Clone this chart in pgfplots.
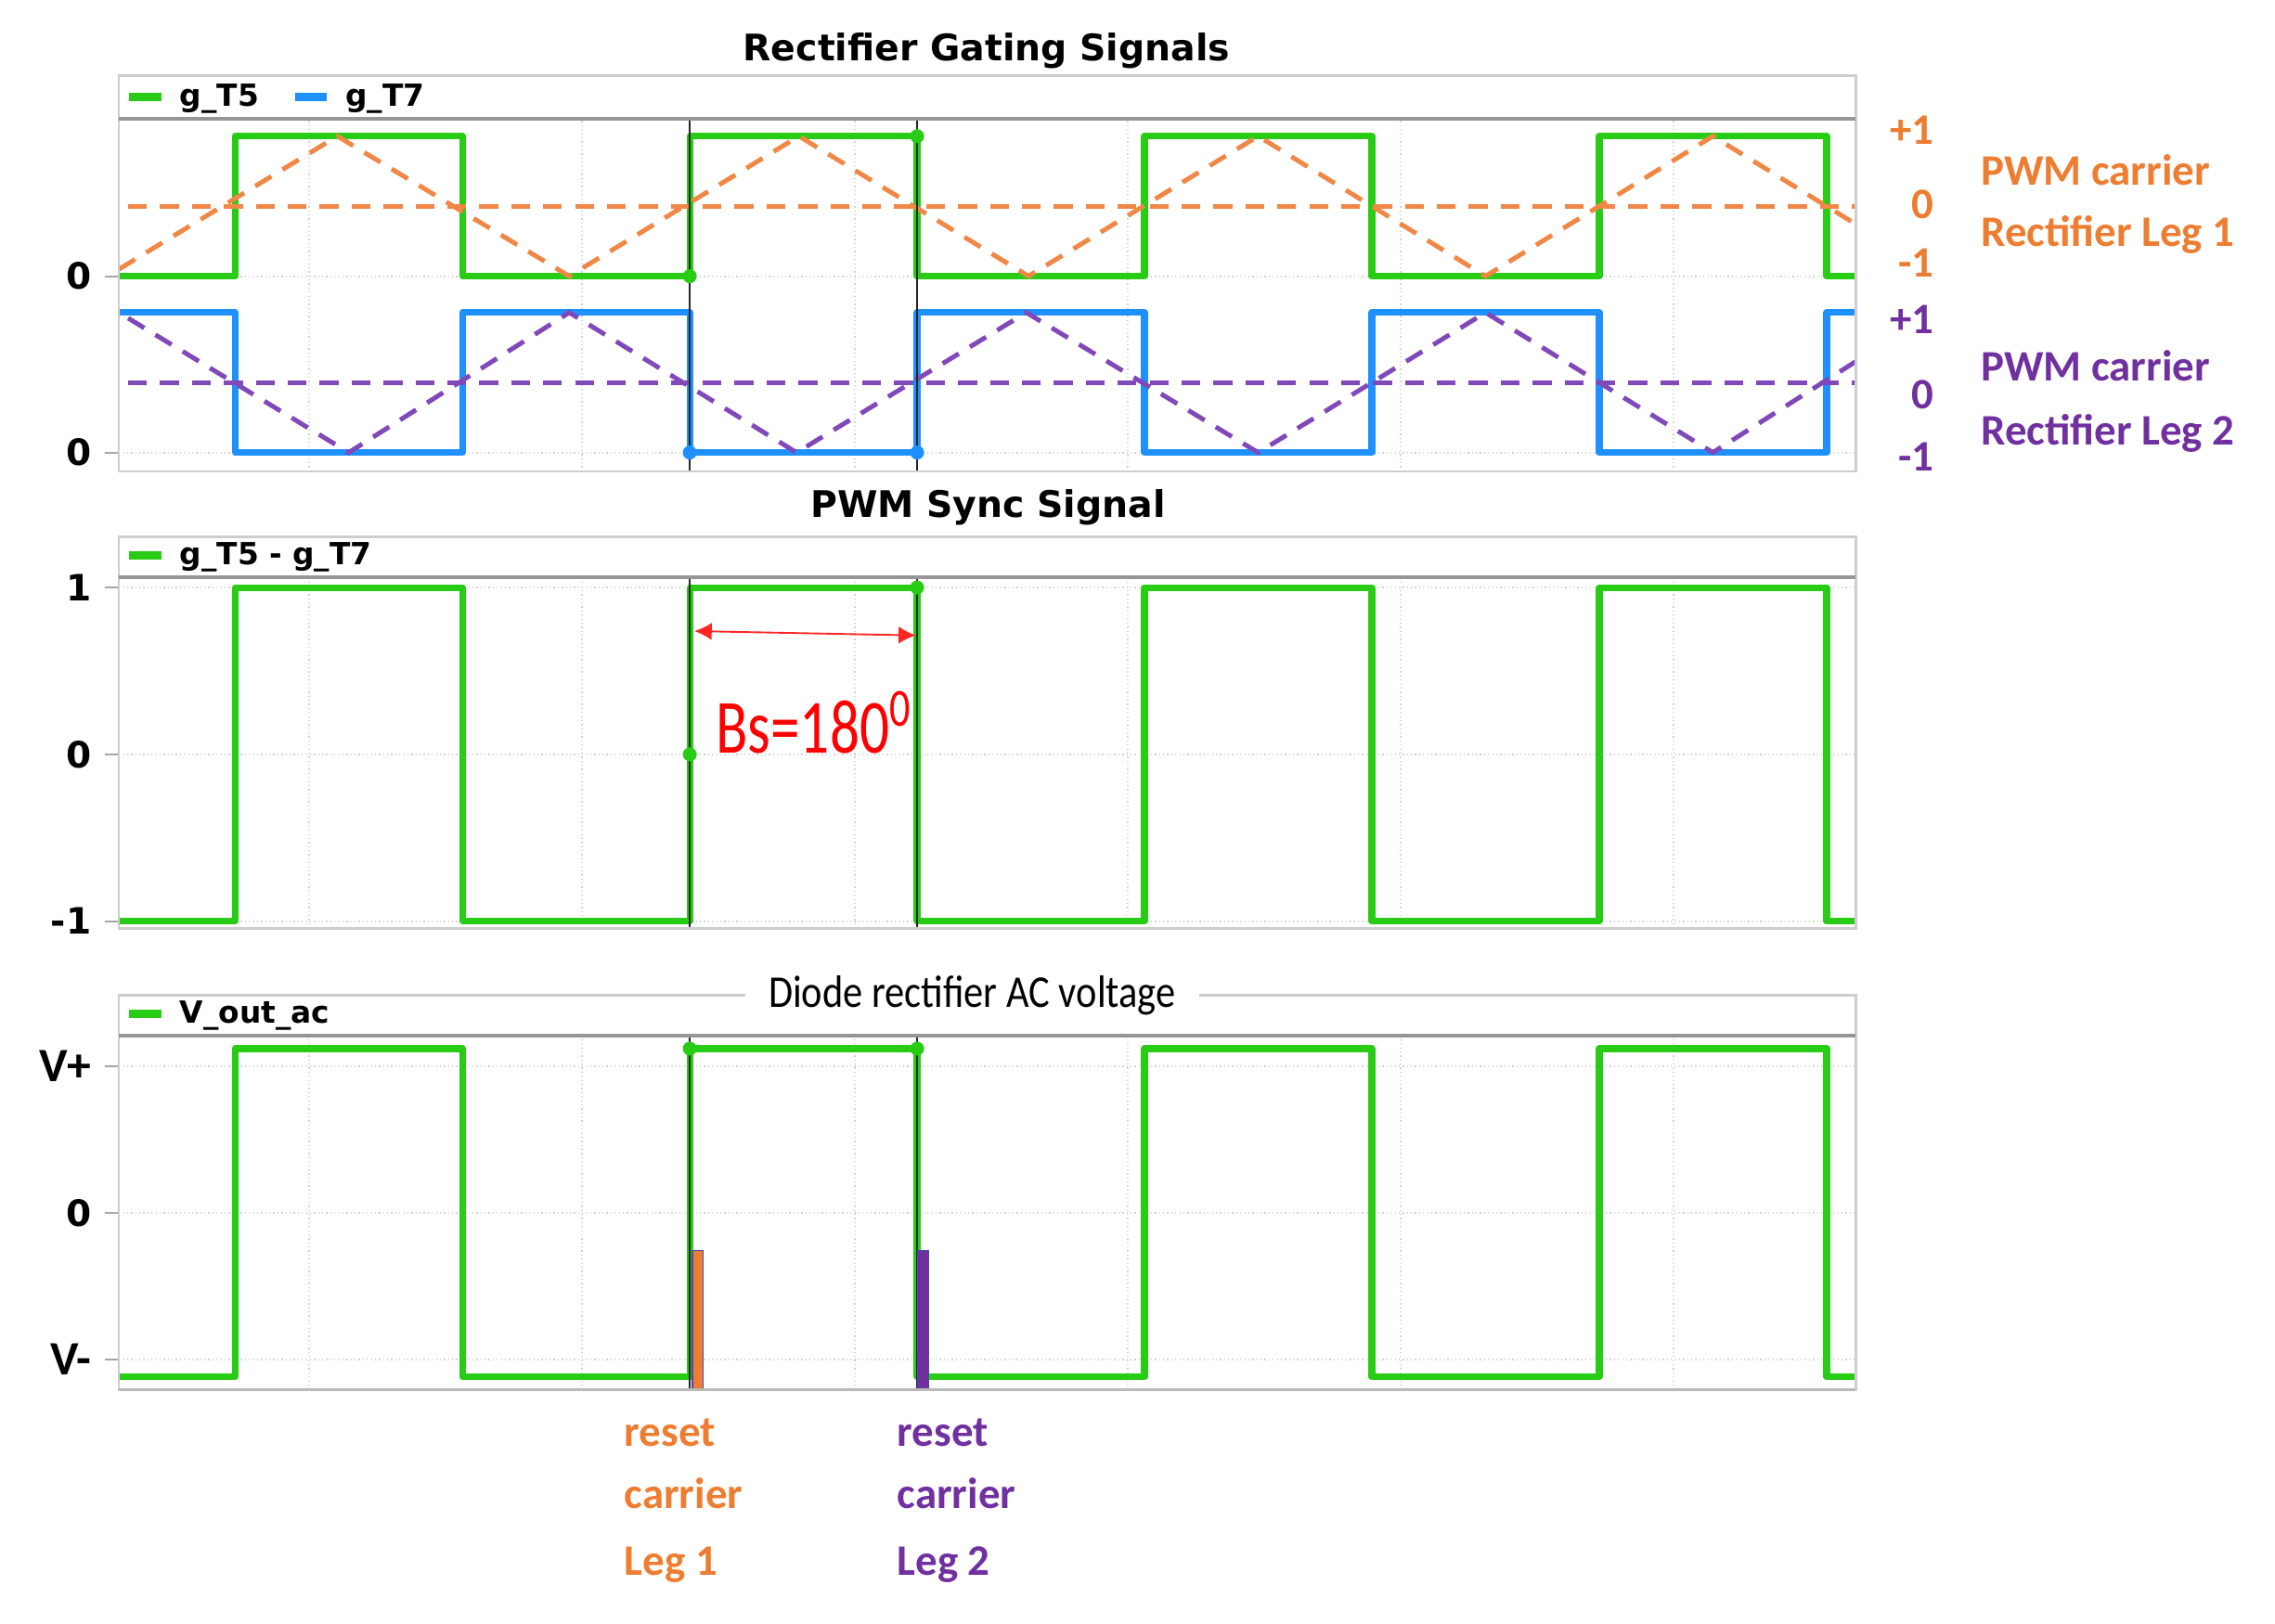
\documentclass[border=0pt]{standalone}
\usepackage{fontspec}
\setmainfont{Carlito}
\newfontfamily\dv{DejaVu Sans}
\usepackage{graphicx}
\usepackage{pgfplots}
\pgfplotsset{compat=1.18}
\usetikzlibrary{arrows.meta}

\definecolor{sgreen}{RGB}{40,204,20}
\definecolor{sblue}{RGB}{30,144,255}
\definecolor{sorange}{RGB}{240,135,70}
\definecolor{spurple}{RGB}{128,72,184}
\definecolor{torange}{RGB}{237,125,49}
\definecolor{tpurple}{RGB}{112,48,160}
\definecolor{frame}{RGB}{205,205,205}
\definecolor{sep}{RGB}{150,150,150}

\pgfplotsset{
  common/.style={
    scale only axis, width=598.5pt, anchor=south west,
    xmin=-0.5105, xmax=7.128,
    axis line style={frame, line width=0.8pt},
    xtick={0.325,1.525,2.725,3.925,5.125,6.325}, xticklabels={},
    xmajorgrids, ymajorgrids,
    grid style={densely dotted, gray!35, line width=0.6pt},
    ytick pos=left, xtick pos=bottom,
    ytick align=outside, xtick align=inside,
    ytick style={gray!70, line width=0.6pt},
    xtick style={draw=none},
    major tick length=5pt,
    yticklabel style={font=\dv\bfseries\fontsize{12.5}{13}\selectfont, black, xshift=-1pt},
    legend style={at={(0,1)}, anchor=west, yshift=7.5pt, xshift=1pt,
      draw=none, fill=none, inner sep=1pt,
      font=\dv\bfseries\fontsize{10.5}{11}\selectfont,
      /tikz/every even column/.append style={column sep=9pt},
      /tikz/every odd column/.append style={column sep=3pt}},
    legend columns=-1,
    legend image code/.code={\draw[#1, line width=2.8pt] (0pt,0pt) -- (11pt,0pt);},
  },
  sq/.style={line width=2.3pt, const plot, line join=round, mark=none},
  car/.style={line width=1.6pt, dash pattern=on 6.5pt off 4.5pt, mark=none, forget plot},
  cursor/.style={black!85, line width=0.8pt, mark=none, forget plot},
  dot/.style={only marks, mark=*, mark size=2.2pt, forget plot},
}

\begin{document}
\begin{tikzpicture}
\useasboundingbox (0pt,0pt) rectangle (784pt,-559.5pt);

% ---------------- Panel 1 ----------------
\begin{axis}[common, height=121.5pt, at={(41pt,-162.5pt)},
  ymin=-0.135, ymax=2.383, ytick={0,1.26}, yticklabels={0,0}]
\addplot[sq, sgreen] coordinates {(-0.5105,1.26) (0,2.26) (1,1.26) (2,2.26) (3,1.26) (4,2.26) (5,1.26) (6,2.26) (7,1.26) (7.128,1.26)};
\addlegendentry{g\_T5}
\addplot[sq, sblue] coordinates {(-0.5105,1) (0,0) (1,1) (2,0) (3,1) (4,0) (5,1) (6,0) (7,1) (7.128,1)};
\addlegendentry{g\_T7}
\addplot[car, sorange] coordinates {(-0.5105,1.31) (0.45,2.26) (1.47,1.26) (2.48,2.26) (3.49,1.26) (4.5,2.26) (5.5,1.26) (6.5,2.26) (7.128,1.632)};
\addplot[car, sorange] coordinates {(-0.47,1.76) (7.128,1.76)};
\addplot[car, spurple] coordinates {(-0.47,0.96) (0.5,0) (1.47,1) (2.47,0) (3.48,1) (4.5,0) (5.5,1) (6.5,0) (7.128,0.65)};
\addplot[car, spurple] coordinates {(-0.47,0.5) (7.128,0.5)};
\addplot[cursor] coordinates {(2,-0.135) (2,2.383)};
\addplot[cursor] coordinates {(3,-0.135) (3,2.383)};
\addplot[dot, sgreen] coordinates {(2,1.26) (3,2.26)};
\addplot[dot, sblue] coordinates {(2,0) (3,0)};
\end{axis}

% ---------------- Panel 2 ----------------
\begin{axis}[common, height=121pt, at={(41pt,-320pt)},
  ymin=-1.043, ymax=1.061, ytick={-1,0,1}, yticklabels={-1,0,1}]
\addplot[sq, sgreen] coordinates {(-0.5105,-1) (0,1) (1,-1) (2,1) (3,-1) (4,1) (5,-1) (6,1) (7,-1) (7.128,-1)};
\addlegendentry{g\_T5 - g\_T7}
\addplot[cursor] coordinates {(2,-1.043) (2,1.061)};
\addplot[cursor] coordinates {(3,-1.043) (3,1.061)};
\addplot[dot, sgreen] coordinates {(2,0) (3,1)};
\draw[red!85, line width=0.6pt, {Latex[length=6pt,width=6pt]}-{Latex[length=6pt,width=6pt]}] (axis cs:2.02,0.739) -- (axis cs:2.995,0.713);
\end{axis}

% ---------------- Panel 3 ----------------
\begin{axis}[common, height=122pt, at={(41pt,-479pt)},
  ymin=-1.208, ymax=1.208, ytick={-1,0,1},
  yticklabels={{\normalfont\bfseries\fontsize{16.5}{16}\selectfont V-\hspace{2pt}},{0},{\normalfont\bfseries\fontsize{16.5}{16}\selectfont V+\hspace{2pt}}},
  xtick style={gray!70, line width=0.6pt}]
\addplot[sq, sgreen] coordinates {(-0.5105,-1.12) (0,1.12) (1,-1.12) (2,1.12) (3,-1.12) (4,1.12) (5,-1.12) (6,1.12) (7,-1.12) (7.128,-1.12)};
\addlegendentry{V\_out\_ac}
\addplot[cursor] coordinates {(2,-1.208) (2,1.208)};
\addplot[cursor] coordinates {(3,-1.208) (3,1.208)};
\addplot[fill=torange, draw=blue!45!gray, line width=0.4pt, forget plot] coordinates {(2.012,-1.208) (2.012,-0.257) (2.058,-0.257) (2.058,-1.208)} -- cycle;
\addplot[fill=tpurple, draw=blue!45!gray, line width=0.4pt, forget plot] coordinates {(3.002,-1.208) (3.002,-0.257) (3.05,-0.257) (3.05,-1.208)} -- cycle;
\addplot[dot, sgreen] coordinates {(2,1.12) (3,1.12)};
\end{axis}

% ---------------- frames and strips ----------------
\draw[frame, line width=0.8pt] (41pt,-26pt) rectangle (639.5pt,-162.5pt);
\draw[sep, line width=1.2pt] (41pt,-41pt) -- (639.5pt,-41pt);
\draw[frame, line width=0.8pt] (41pt,-185pt) rectangle (639.5pt,-320pt);
\draw[sep, line width=1.2pt] (41pt,-199pt) -- (639.5pt,-199pt);
\draw[frame, line width=0.8pt] (41pt,-343pt) rectangle (639.5pt,-479pt);
\draw[sep, line width=1.2pt] (41pt,-357pt) -- (639.5pt,-357pt);
\draw[gray!55, line width=1.1pt] (41pt,-479pt) -- (639.5pt,-479pt);

% ---------------- titles ----------------
\node[font=\dv\bfseries\fontsize{12.6}{14}\selectfont] at (340pt,-17.5pt) {Rectifier Gating Signals};
\node[font=\dv\bfseries\fontsize{12.6}{14}\selectfont] at (340.5pt,-175pt) {PWM Sync Signal};
\node[fill=white, inner xsep=8pt, inner ysep=1pt, font=\fontsize{14}{16}\selectfont] at (335pt,-343pt) {\scalebox{0.97}[1.12]{Diode rectifier AC voltage}};

% ---------------- right annotations ----------------
\begin{scope}[font=\bfseries\fontsize{15}{16}\selectfont]
\node[anchor=east, text=torange] at (670pt,-45pt) {+1};
\node[anchor=east, text=torange] at (670pt,-70.5pt) {0};
\node[anchor=east, text=torange] at (670pt,-90.5pt) {-1};
\node[anchor=east, text=tpurple] at (670pt,-110pt) {+1};
\node[anchor=east, text=tpurple] at (670pt,-136pt) {0};
\node[anchor=east, text=tpurple] at (670pt,-157.5pt) {-1};
\node[anchor=base west, text=torange, inner sep=0pt] at (682.5pt,-63.8pt) {PWM carrier};
\node[anchor=base west, text=torange, inner sep=0pt] at (682.5pt,-85pt) {Rectifier Leg 1};
\node[anchor=base west, text=tpurple, inner sep=0pt] at (682.5pt,-131.3pt) {PWM carrier};
\node[anchor=base west, text=tpurple, inner sep=0pt] at (682.5pt,-153.3pt) {Rectifier Leg 2};
\node[anchor=base west, text=torange, inner sep=0pt] at (215pt,-498.5pt) {reset};
\node[anchor=base west, text=torange, inner sep=0pt] at (215pt,-520pt) {carrier};
\node[anchor=base west, text=torange, inner sep=0pt] at (215pt,-543pt) {Leg 1};
\node[anchor=base west, text=tpurple, inner sep=0pt] at (309pt,-498.5pt) {reset};
\node[anchor=base west, text=tpurple, inner sep=0pt] at (309pt,-520pt) {carrier};
\node[anchor=base west, text=tpurple, inner sep=0pt] at (309pt,-543pt) {Leg 2};
\end{scope}
\node[anchor=west, text=red, inner sep=0pt, font=\fontsize{22}{24}\selectfont] at (246.5pt,-249pt) {\scalebox{0.92}[1.2]{Bs=180\textsuperscript{0}}};
\end{tikzpicture}
\end{document}
